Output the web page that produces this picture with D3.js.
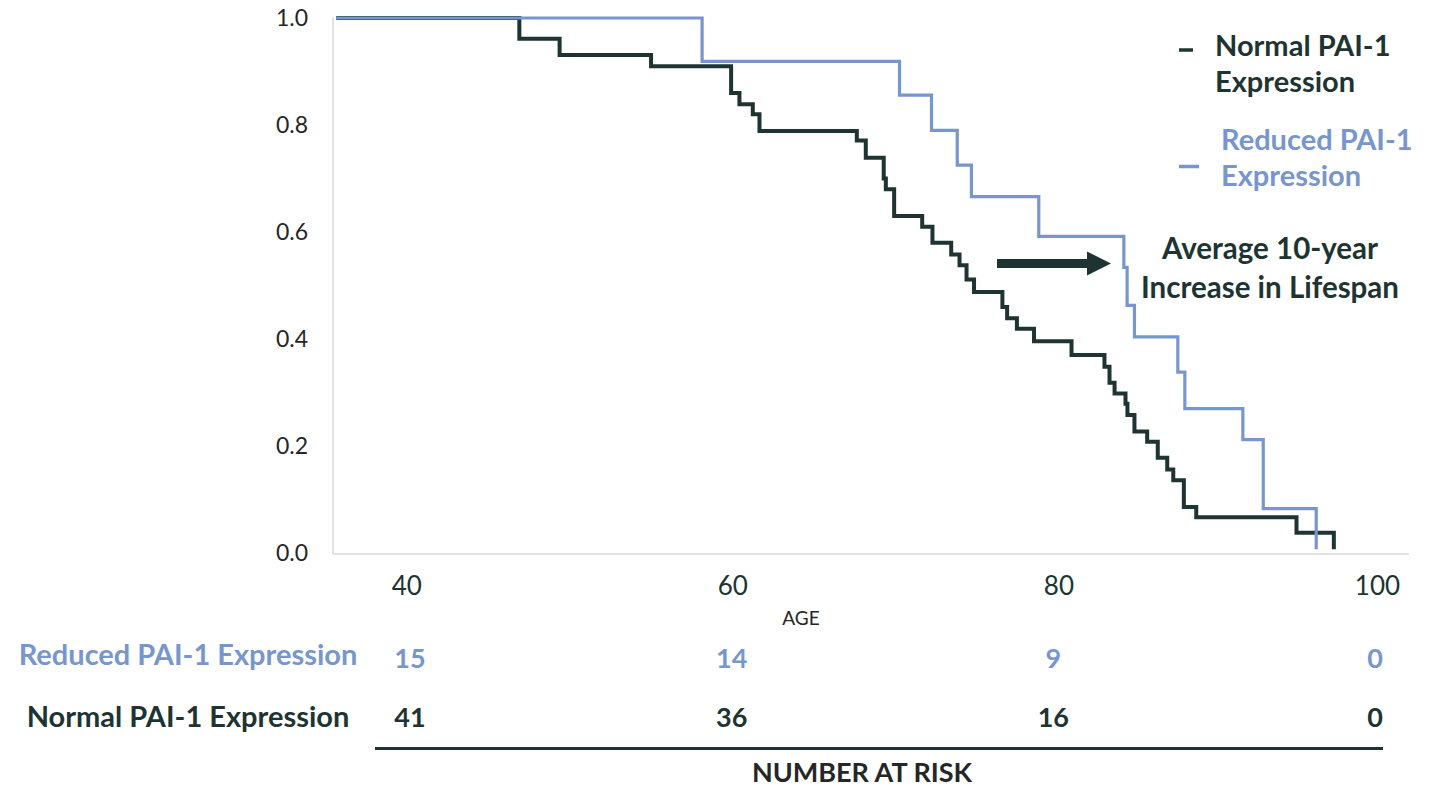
<!DOCTYPE html>
<html>
<head>
<meta charset="utf-8">
<script src="https://cdn.jsdelivr.net/npm/d3@7"></script>
<style>
  html, body { margin: 0; padding: 0; background: #fff; }
  svg { display: block; font-family: Lato, "Open Sans", sans-serif; }
</style>
</head>
<body>
<svg id="chart" width="1430" height="788"></svg>
<script>
// ---- data ----
const normalAges = [35.7, 46.93, 49.40, 55.01, 59.92, 60.43, 61.25, 61.66, 67.63, 68.18, 69.28, 69.41, 69.92,
  71.64, 72.27, 73.42, 73.93, 74.36, 74.82, 76.56, 76.85, 77.45, 78.50, 80.80, 82.82, 83.13, 83.44,
  84.11, 84.23, 84.66, 85.44, 86.09, 86.67, 87.04, 87.69, 88.45, 94.60, 96.89];
const normalSurv = [1.0, 0.961, 0.931, 0.910, 0.860, 0.839, 0.820, 0.789, 0.771, 0.739, 0.700, 0.680, 0.630,
  0.610, 0.580, 0.558, 0.538, 0.511, 0.488, 0.460, 0.439, 0.419, 0.396, 0.370, 0.348, 0.318, 0.298,
  0.279, 0.258, 0.227, 0.208, 0.178, 0.156, 0.136, 0.086, 0.067, 0.038, 0.007];
const reducedAges = [35.7, 58.14, 70.25, 72.21, 73.79, 74.66, 78.79, 84.01, 84.21, 84.66, 87.32, 87.75,
  91.31, 92.56, 95.81];
const reducedSurv = [1.0, 0.919, 0.856, 0.790, 0.725, 0.666, 0.592, 0.534, 0.463, 0.404, 0.338, 0.270,
  0.212, 0.083, 0.007];
const yTicks = [0, 0.2, 0.4, 0.6, 0.8, 1.0];
const xTicks = [40, 60, 80, 100];
const riskAges = [40, 60, 80, 100];
const riskReduced = [15, 14, 9, 0];
const riskNormal = [41, 36, 16, 0];
const seriesNames = ["Normal PAI-1 Expression", "Reduced PAI-1 Expression"];
const legendLines = [["Normal PAI-1", "Expression"], ["Reduced PAI-1", "Expression"]];
const annotationLines = ["Average 10-year", "Increase in Lifespan"];

// ---- styles ----
const DARK = "#1e3432";
const BLUE = "#7896ce";
const GRID = "#d9d9d9";
const TXT = "#262626";

const svg = d3.select("#chart");
const x = d3.scaleLinear().domain([35.5, 101.5]).range([333, 1409]);
const y = d3.scaleLinear().domain([0, 1]).range([553, 18]);

// axes lines
svg.append("line").attr("x1", x(35.5)).attr("x2", x(35.5)).attr("y1", y(1)).attr("y2", y(0) + 1)
  .attr("stroke", GRID).attr("stroke-width", 1.5);
svg.append("line").attr("x1", x(35.5)).attr("x2", x(101.5)).attr("y1", y(0) + 1).attr("y2", y(0) + 1)
  .attr("stroke", GRID).attr("stroke-width", 1.5);

// y axis labels
const yAxis = d3.axisLeft(y).tickValues(yTicks).tickFormat(d3.format(".1f")).tickSize(0).tickPadding(25);
const gy = svg.append("g").attr("transform", `translate(${x(35.5)},0)`).call(yAxis);
gy.select(".domain").remove();
gy.selectAll("text").attr("font-size", 23).attr("fill", TXT).attr("font-family", "Lato");

// x axis labels
const xAxis = d3.axisBottom(x).tickValues(xTicks).tickFormat(d3.format("d")).tickSize(0).tickPadding(24);
const gx = svg.append("g").attr("transform", `translate(0,${y(0)})`).call(xAxis);
gx.select(".domain").remove();
gx.selectAll("text").attr("font-size", 26).attr("fill", DARK).attr("font-family", "Lato")
  .attr("text-anchor", "end").attr("dx", 15);

svg.append("text").attr("x", 801).attr("y", 625).attr("text-anchor", "middle")
  .attr("font-size", 19).attr("fill", TXT).text("AGE");

// step curves
const line = d3.line().x(d => x(d[0])).y(d => y(d[1])).curve(d3.curveStepAfter);
const normalPts = normalAges.map((a, i) => [a, normalSurv[i]]);
const reducedPts = reducedAges.map((a, i) => [a, reducedSurv[i]]);
svg.append("path").datum(normalPts).attr("d", line).attr("fill", "none")
  .attr("stroke", DARK).attr("stroke-width", 4).attr("stroke-linejoin", "miter");
svg.append("path").datum(reducedPts).attr("d", line).attr("fill", "none")
  .attr("stroke", BLUE).attr("stroke-width", 3.2).attr("stroke-linejoin", "miter");

// legend
const legendColors = [DARK, BLUE];
const legendY = [56, 150];
const legendX = [1215, 1221];
legendLines.forEach((lines, i) => {
  const my = i === 0 ? 50 : 166.5;
  svg.append("line").attr("x1", 1179).attr("x2", i === 0 ? 1193 : 1199)
    .attr("y1", my).attr("y2", my)
    .attr("stroke", legendColors[i]).attr("stroke-width", 3.5);
  const t = svg.append("text").attr("x", legendX[i]).attr("y", legendY[i])
    .attr("font-size", 29).attr("font-weight", "bold").attr("fill", legendColors[i]);
  lines.forEach((s, j) => t.append("tspan").attr("x", legendX[i]).attr("dy", j === 0 ? 0 : 36).text(s));
});

// annotation arrow + text
svg.append("line").attr("x1", 997).attr("x2", 1090).attr("y1", 263.5).attr("y2", 263.5)
  .attr("stroke", DARK).attr("stroke-width", 9);
svg.append("path").attr("d", d3.line()([[1087, 251.5], [1111, 263.5], [1087, 275.5]]))
  .attr("fill", DARK);
const ann = svg.append("text").attr("x", 1270).attr("y", 259).attr("text-anchor", "middle")
  .attr("font-size", 29.5).attr("font-weight", "bold").attr("fill", DARK);
annotationLines.forEach((s, j) => ann.append("tspan").attr("x", 1270).attr("dy", j === 0 ? 0 : 39).text(s));

// number at risk table
const rx = d3.scalePoint().domain(riskAges).range([410, 1375]);
const rows = [
  { name: seriesNames[1], vals: riskReduced, color: BLUE, yl: 665, yn: 668 },
  { name: seriesNames[0], vals: riskNormal, color: DARK, yl: 727, yn: 727 }
];
rows.forEach(r => {
  svg.append("text").attr("x", 188).attr("y", r.yl).attr("text-anchor", "middle")
    .attr("font-size", 29).attr("font-weight", "bold").attr("fill", r.color).text(r.name);
  svg.selectAll(null).data(riskAges).enter().append("text")
    .attr("x", d => rx(d)).attr("y", r.yn).attr("text-anchor", "middle")
    .attr("font-size", 27).attr("font-weight", "bold").attr("fill", r.color)
    .text((d, i) => r.vals[i]);
});
svg.append("line").attr("x1", 375).attr("x2", 1383).attr("y1", 748.5).attr("y2", 748.5)
  .attr("stroke", DARK).attr("stroke-width", 3);
svg.append("text").attr("x", 862).attr("y", 782).attr("text-anchor", "middle")
  .attr("font-size", 27).attr("font-weight", "bold").attr("fill", TXT).text("NUMBER AT RISK");
</script>
</body>
</html>
